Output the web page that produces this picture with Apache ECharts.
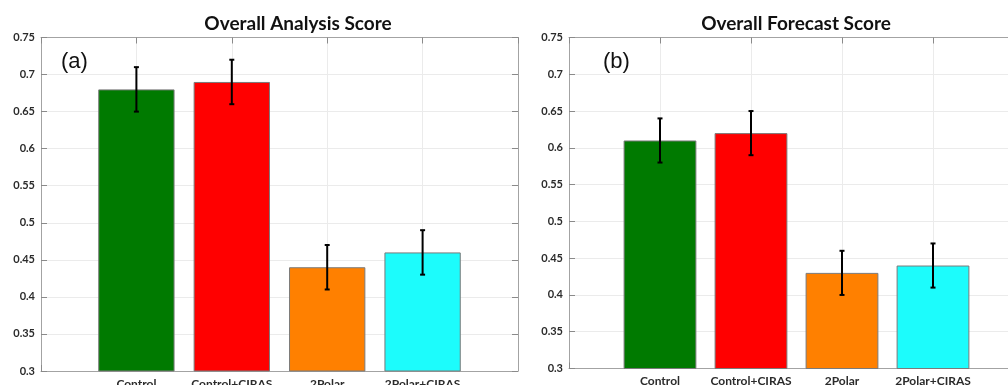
<!DOCTYPE html>
<html>
<head>
<meta charset="utf-8">
<script src="https://cdn.jsdelivr.net/npm/echarts@6/dist/echarts.min.js"></script>
<style>
html,body{margin:0;padding:0;background:#fff;}
#chart{width:1008px;height:385px;}
</style>
</head>
<body>
<div id="chart"></div>
<script>
const categories = ['Control', 'Control+CIRAS', '2Polar', '2Polar+CIRAS'];
const analysisScore = [0.68, 0.69, 0.44, 0.46];
const analysisLow   = [0.65, 0.66, 0.41, 0.43];
const analysisHigh  = [0.71, 0.72, 0.47, 0.49];
const forecastScore = [0.61, 0.62, 0.43, 0.44];
const forecastLow   = [0.58, 0.59, 0.40, 0.41];
const forecastHigh  = [0.64, 0.65, 0.46, 0.47];
const barColors = ['#007a00', '#ff0000', '#ff8000', '#1cfcfc'];
const titles = ['Overall Analysis Score', 'Overall Forecast Score'];
const panelLabels = ['(a)', '(b)'];

// panel (b) is cropped at the right edge of the picture: only 0..xMax of its 0..5 range shows
const slot = [95.4, 91];
const grids = [
  {left: 41, top: 37.5, width: 5 * slot[0], height: 333.5},
  {left: 569, top: 37.5, width: 1008 - 569, height: 331}
];
const xMax = [5, (1008 - 569) / slot[1]];

const chart = echarts.init(document.getElementById('chart'));
const axisColor = '#a3a3a3';
const labelFont = {fontFamily: 'Lato', fontWeight: 'bold', fontSize: 11, color: '#2b2b2b'};

function xAxisBottom(g) {
  return {
    type: 'value', gridIndex: g, min: 0, max: xMax[g], interval: 1, position: 'bottom',
    axisLine: {show: true, onZero: false, lineStyle: {color: axisColor, width: 1}},
    axisTick: {show: true, inside: true, length: 6, lineStyle: {color: '#8a8a8a'}},
    splitLine: {show: true, lineStyle: {color: '#ebebeb', width: 1}},
    axisLabel: Object.assign({}, labelFont, {
      margin: 7, fontSize: 12, showMaxLabel: false,
      formatter: v => (Number.isInteger(v) && v >= 1 && v <= categories.length) ? categories[v - 1] : ''
    })
  };
}
function xAxisTop(g) {
  return {
    type: 'value', gridIndex: g, min: 0, max: xMax[g], interval: 1, position: 'top',
    axisLine: {show: true, onZero: false, lineStyle: {color: axisColor, width: 1}},
    axisTick: {show: true, inside: true, length: 6, lineStyle: {color: '#8a8a8a'}},
    splitLine: {show: false}, axisLabel: {show: false}
  };
}
function yAxisLeft(g) {
  return {
    type: 'value', gridIndex: g, min: 0.3, max: 0.75, interval: 0.05, position: 'left',
    axisLine: {show: true, onZero: false, lineStyle: {color: axisColor, width: 1}},
    axisTick: {show: true, inside: true, length: 6, lineStyle: {color: '#8a8a8a'}},
    splitLine: {show: true, lineStyle: {color: '#ebebeb', width: 1}},
    axisLabel: Object.assign({margin: 6, formatter: v => String(+v.toFixed(2))}, labelFont)
  };
}
function yAxisRight(g) {
  const visible = g === 0;
  return {
    type: 'value', gridIndex: g, min: 0.3, max: 0.75, interval: 0.05, position: 'right',
    show: visible,
    axisLine: {show: visible, onZero: false, lineStyle: {color: axisColor, width: 1}},
    axisTick: {show: visible, inside: true, length: 6, lineStyle: {color: '#8a8a8a'}},
    splitLine: {show: false}, axisLabel: {show: false}
  };
}

function barSeries(g, values) {
  return {
    type: 'bar', xAxisIndex: g * 2, yAxisIndex: g * 2,
    barWidth: slot[g] * 0.8,
    data: values.map((v, i) => ({value: [i + 1, v], itemStyle: {color: barColors[i]}})),
    itemStyle: {borderColor: '#7a7a7a', borderWidth: 1},
    z: 2
  };
}
function errSeries(g, lows, highs) {
  return {
    type: 'custom', xAxisIndex: g * 2, yAxisIndex: g * 2, z: 5,
    data: lows.map((l, i) => [i + 1, l, highs[i]]),
    renderItem: function (params, api) {
      const x = api.value(0);
      const p1 = api.coord([x, api.value(1)]);
      const p2 = api.coord([x, api.value(2)]);
      const cw = 2.5;
      const st = {stroke: '#000', lineWidth: 2};
      return {
        type: 'group',
        children: [
          {type: 'line', shape: {x1: p1[0], y1: p1[1], x2: p2[0], y2: p2[1]}, style: st},
          {type: 'line', shape: {x1: p1[0] - cw, y1: p1[1], x2: p1[0] + cw, y2: p1[1]}, style: st},
          {type: 'line', shape: {x1: p2[0] - cw, y1: p2[1], x2: p2[0] + cw, y2: p2[1]}, style: st}
        ]
      };
    }
  };
}

chart.setOption({
  animation: false,
  backgroundColor: '#ffffff',
  title: [
    {text: titles[0], left: 293, top: 9, textAlign: 'center',
     textStyle: {fontFamily: 'Lato', fontWeight: 'bold', fontSize: 19, color: '#111'}},
    {text: titles[1], left: 791, top: 9, textAlign: 'center',
     textStyle: {fontFamily: 'Lato', fontWeight: 'bold', fontSize: 19, color: '#111'}}
  ],
  graphic: [
    {type: 'text', left: 61, top: 51, style: {text: panelLabels[0], font: '22px "Liberation Sans"', fill: '#111'}},
    {type: 'text', left: 603, top: 51, style: {text: panelLabels[1], font: '22px "Liberation Sans"', fill: '#111'}}
  ],
  grid: grids.map(g => Object.assign({containLabel: false, outerBoundsMode: 'none'}, g)),
  xAxis: [xAxisBottom(0), xAxisTop(0), xAxisBottom(1), xAxisTop(1)],
  yAxis: [yAxisLeft(0), yAxisRight(0), yAxisLeft(1), yAxisRight(1)],
  series: [
    barSeries(0, analysisScore),
    errSeries(0, analysisLow, analysisHigh),
    barSeries(1, forecastScore),
    errSeries(1, forecastLow, forecastHigh)
  ]
});
</script>
</body>
</html>
